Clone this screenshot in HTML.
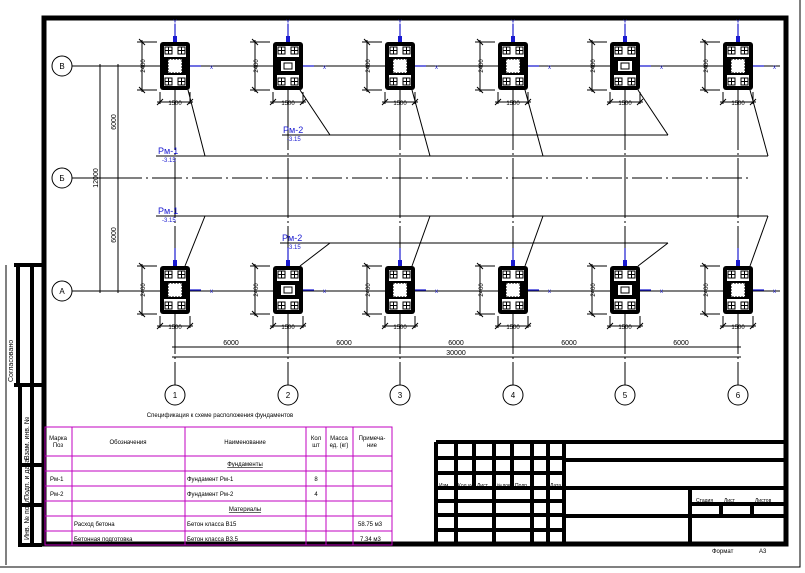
<!DOCTYPE html>
<html><head><meta charset="utf-8"><style>
html,body{margin:0;padding:0;background:#fff;}
svg{display:block;font-family:"Liberation Sans",sans-serif;}
</style></head><body>
<svg width="805" height="573" viewBox="0 0 805 573" xmlns="http://www.w3.org/2000/svg">
<defs>
<g id="fA">
 <rect x="-15" y="-24" width="30" height="48" rx="3" fill="#000"/>
 <rect x="-11" y="-20" width="22" height="40" fill="#fff"/>
 <rect x="-11" y="-9" width="22" height="18" fill="#000"/>
 <rect x="-7" y="-7" width="14" height="14" fill="#fff" stroke="#000" stroke-dasharray="2 1"/>
 <g fill="none" stroke="#000" stroke-width="1">
  <rect x="-10" y="-19" width="7" height="7"/><rect x="3" y="-19" width="7" height="7"/>
  <rect x="-10" y="12" width="7" height="7"/><rect x="3" y="12" width="7" height="7"/>
  <path d="M-10-15.5h7M-6.5-19v7M3-15.5h7M6.5-19v7M-10 15.5h7M-6.5 12v7M3 15.5h7M6.5 12v7"/>
 </g>
</g>
<g id="fB">
 <rect x="-15" y="-24" width="30" height="48" rx="3" fill="#000"/>
 <rect x="-11" y="-20" width="22" height="40" fill="#fff"/>
 <rect x="-11" y="-9" width="22" height="18" fill="#000"/>
 <rect x="-7" y="-5" width="14" height="10" fill="#fff"/>
 <rect x="-4" y="-3" width="8" height="6" fill="none" stroke="#000"/>
 <g fill="none" stroke="#000" stroke-width="1">
  <rect x="-10" y="-19" width="7" height="7"/><rect x="3" y="-19" width="7" height="7"/>
  <rect x="-10" y="12" width="7" height="7"/><rect x="3" y="12" width="7" height="7"/>
  <path d="M-10-15.5h7M-6.5-19v7M3-15.5h7M6.5-19v7M-10 15.5h7M-6.5 12v7M3 15.5h7M6.5 12v7"/>
 </g>
</g>
<g id="dims" stroke="#000" stroke-width="1" fill="none">
 <path d="M-18-24h-20M-18 24h-20M-33-26v52M-36-27l6 6M-36 21l6 6"/>
 <path d="M-15 26v12M15 26v12M-18 36h36M-18 39l6-6M12 39l6-6"/>
 <path d="M0-42v66" stroke="#1a1ad0" stroke-width="1.2"/>
 <path d="M0 0h26" stroke="#1a1ad0" stroke-width="1.2"/>
 <path d="M-2-24v-6h4v6" fill="#1a1ad0" stroke="none"/>
</g>
</defs>

<!-- outer thin frame -->
<path d="M0 567H800V0" fill="none" stroke="#000" stroke-width="1"/>
<!-- main thick frame -->
<rect x="44" y="18" width="742" height="526" fill="none" stroke="#000" stroke-width="5"/>
<path d="M6 265V565" stroke="#000" stroke-width="1"/>

<!-- left side strip -->
<g fill="none" stroke="#000" stroke-width="4">
 <path d="M14 265H42M14 385H42M18 265V385M32 265V385"/>
 <path d="M20 385V545H42M20 465H42M20 505H42M32 385V545"/>
</g>
<g font-size="7" fill="#000">
 <text transform="translate(13 382) rotate(-90)">Согласовано</text>
 <text transform="translate(29 460) rotate(-90)">Взам. инв. №</text>
 <text transform="translate(29 500) rotate(-90)">Подп. и дата</text>
 <text transform="translate(29 540) rotate(-90)">Инв. № подл.</text>
</g>

<!-- grid axes -->
<g stroke="#000" stroke-width="1" fill="none">
 <path d="M72 66H780M72 291H780" />
 <path d="M72 178H750" stroke-dasharray="30 4 2 4"/>
 <path d="M175 90V385M288 90V385M400 90V385M513 90V385M625 90V385M738 90V385" stroke-dasharray="60 3 2 3"/>
 <circle cx="62" cy="66" r="10"/><circle cx="62" cy="178" r="10"/><circle cx="62" cy="291" r="10"/>
 <circle cx="175" cy="395" r="10"/><circle cx="288" cy="395" r="10"/><circle cx="400" cy="395" r="10"/>
 <circle cx="513" cy="395" r="10"/><circle cx="625" cy="395" r="10"/><circle cx="738" cy="395" r="10"/>
 <!-- left dims -->
 <path d="M100 64V293M118 64V293M96 66h26M96 178h26M96 291h26"/>
 <!-- bottom dims -->
 <path d="M172 347H741M172 357H741"/>
 <!-- leader lines -->
 <path d="M156 156H768M282 135H668M156 216H768M280 243H668"/>
 <path d="M188 90L205 156M300 90L330 135M412 90L430 156M525 90L543 156M638 90L668 135M750 90L768 156"/>
 <path d="M185 266L205 216M300 266L330 243M412 266L430 216M525 266L543 216M638 266L668 243M750 266L768 216"/>
</g>
<g font-size="8" text-anchor="middle" fill="#000">
 <text x="62" y="69">В</text><text x="62" y="181">Б</text><text x="62" y="294">А</text>
 <text x="175" y="398">1</text><text x="288" y="398">2</text><text x="400" y="398">3</text>
 <text x="513" y="398">4</text><text x="625" y="398">5</text><text x="738" y="398">6</text>
</g>
<g font-size="7" text-anchor="middle" fill="#000">
 <text transform="translate(98 178) rotate(-90)">12000</text>
 <text transform="translate(116 122) rotate(-90)">6000</text>
 <text transform="translate(116 235) rotate(-90)">6000</text>
 <text x="231" y="345">6000</text><text x="344" y="345">6000</text><text x="456" y="345">6000</text>
 <text x="569" y="345">6000</text><text x="681" y="345">6000</text><text x="456" y="355">30000</text>
</g>

<!-- foundations -->
<g id="row1">
 <g transform="translate(175 66)"><use href="#dims"/><use href="#fA"/></g>
 <g transform="translate(288 66)"><use href="#dims"/><use href="#fB"/></g>
 <g transform="translate(400 66)"><use href="#dims"/><use href="#fA"/></g>
 <g transform="translate(513 66)"><use href="#dims"/><use href="#fA"/></g>
 <g transform="translate(625 66)"><use href="#dims"/><use href="#fB"/></g>
 <g transform="translate(738 66)"><use href="#dims"/><use href="#fA"/></g>
</g>
<g>
 <g transform="translate(175 290)"><use href="#dims"/><use href="#fA"/></g>
 <g transform="translate(288 290)"><use href="#dims"/><use href="#fB"/></g>
 <g transform="translate(400 290)"><use href="#dims"/><use href="#fA"/></g>
 <g transform="translate(513 290)"><use href="#dims"/><use href="#fA"/></g>
 <g transform="translate(625 290)"><use href="#dims"/><use href="#fB"/></g>
 <g transform="translate(738 290)"><use href="#dims"/><use href="#fA"/></g>
</g>
<g font-size="6" fill="#000" text-anchor="middle">
 <text x="175" y="105">1500</text><text x="288" y="105">1500</text><text x="400" y="105">1500</text><text x="513" y="105">1500</text><text x="625" y="105">1500</text><text x="738" y="105">1500</text>
 <text x="175" y="329">1500</text><text x="288" y="329">1500</text><text x="400" y="329">1500</text><text x="513" y="329">1500</text><text x="625" y="329">1500</text><text x="738" y="329">1500</text>
 <text transform="translate(145 66) rotate(-90)">2400</text><text transform="translate(258 66) rotate(-90)">2400</text><text transform="translate(370 66) rotate(-90)">2400</text><text transform="translate(483 66) rotate(-90)">2400</text><text transform="translate(595 66) rotate(-90)">2400</text><text transform="translate(708 66) rotate(-90)">2400</text>
 <text transform="translate(145 290) rotate(-90)">2400</text><text transform="translate(258 290) rotate(-90)">2400</text><text transform="translate(370 290) rotate(-90)">2400</text><text transform="translate(483 290) rotate(-90)">2400</text><text transform="translate(595 290) rotate(-90)">2400</text><text transform="translate(708 290) rotate(-90)">2400</text>
</g>
<g font-size="6" fill="#1a1ad0">
 <text x="173" y="24">Y</text><text x="286" y="24">Y</text><text x="398" y="24">Y</text><text x="511" y="24">Y</text><text x="623" y="24">Y</text><text x="736" y="24">Y</text>
 <text x="210" y="69">x</text><text x="323" y="69">x</text><text x="435" y="69">x</text><text x="548" y="69">x</text><text x="660" y="69">x</text><text x="773" y="69">x</text>
 <text x="210" y="293">x</text><text x="323" y="293">x</text><text x="435" y="293">x</text><text x="548" y="293">x</text><text x="660" y="293">x</text><text x="773" y="293">x</text>
</g>
<g fill="#1a1ad0">
 <text x="158" y="154" font-size="9">Рм-1</text><text x="162" y="162" font-size="6">-3.15</text>
 <text x="283" y="133" font-size="9">Рм-2</text><text x="287" y="141" font-size="6">-3.15</text>
 <text x="158" y="214" font-size="9">Рм-1</text><text x="162" y="222" font-size="6">-3.15</text>
 <text x="282" y="241" font-size="9">Рм-2</text><text x="287" y="249" font-size="6">-3.15</text>
</g>

<!-- specification table -->
<text x="220" y="417" font-size="6" text-anchor="middle">Спецификация к схеме расположения фундаментов</text>
<g stroke="#c000c0" stroke-width="1" fill="none">
 <rect x="45" y="427" width="347" height="118"/>
 <path d="M72 427V545M185 427V545M306 427V545M326 427V545M353 427V545"/>
 <path d="M45 456H392M45 471H392M45 486H392M45 501H392M45 516H392M45 531H392"/>
</g>
<g font-size="6" fill="#000">
 <text x="58" y="440" text-anchor="middle">Марка</text><text x="58" y="447" text-anchor="middle">Поз</text>
 <text x="128" y="444" text-anchor="middle">Обозначения</text>
 <text x="245" y="444" text-anchor="middle">Наименование</text>
 <text x="316" y="440" text-anchor="middle">Кол</text><text x="316" y="447" text-anchor="middle">шт</text>
 <text x="339" y="440" text-anchor="middle">Масса</text><text x="339" y="447" text-anchor="middle">ед. (кг)</text>
 <text x="372" y="440" text-anchor="middle">Примеча-</text><text x="372" y="447" text-anchor="middle">ние</text>
 <text x="245" y="466" text-anchor="middle" text-decoration="underline">Фундаменты</text>
 <text x="50" y="481">Рм-1</text><text x="187" y="481">Фундамент Рм-1</text><text x="316" y="481" text-anchor="middle">8</text>
 <text x="50" y="496">Рм-2</text><text x="187" y="496">Фундамент Рм-2</text><text x="316" y="496" text-anchor="middle">4</text>
 <text x="245" y="511" text-anchor="middle" text-decoration="underline">Материалы</text>
 <text x="74" y="526">Расход бетона</text><text x="187" y="526">Бетон класса В15</text><text x="358" y="526">58.75 м3</text>
 <text x="74" y="541">Бетонная подготовка</text><text x="187" y="541">Бетон класса В3.5</text><text x="360" y="541">7.34 м3</text>
</g>

<!-- title block -->
<g stroke="#000" stroke-width="4" fill="none">
 <path d="M436 442H786M436 442V545"/>
 <path d="M456 442V545M474 442V487M494 442V545M512 442V487M532 442V545M548 442V545M564 442V545"/>
 <path d="M438 458H564M438 473H564M436 488H786"/>
 <path d="M438 501H564M438 515H564M438 530H564"/>
 <path d="M564 460H786M564 516H786M690 488V545M692 504H786M721 504V516M752 504V516"/>
</g>
<g font-size="5" fill="#000">
 <text x="439" y="487">Изм.</text><text x="458" y="487">Кол.уч</text><text x="477" y="487">Лист</text><text x="497" y="487">№док</text><text x="515" y="487">Подп.</text><text x="550" y="487">Дата</text>
 <text x="696" y="502">Стадия</text><text x="724" y="502">Лист</text><text x="755" y="502">Листов</text>
</g>
<text x="712" y="553" font-size="6">Формат</text>
<text x="759" y="553" font-size="6">А3</text>
</svg>
</body></html>
